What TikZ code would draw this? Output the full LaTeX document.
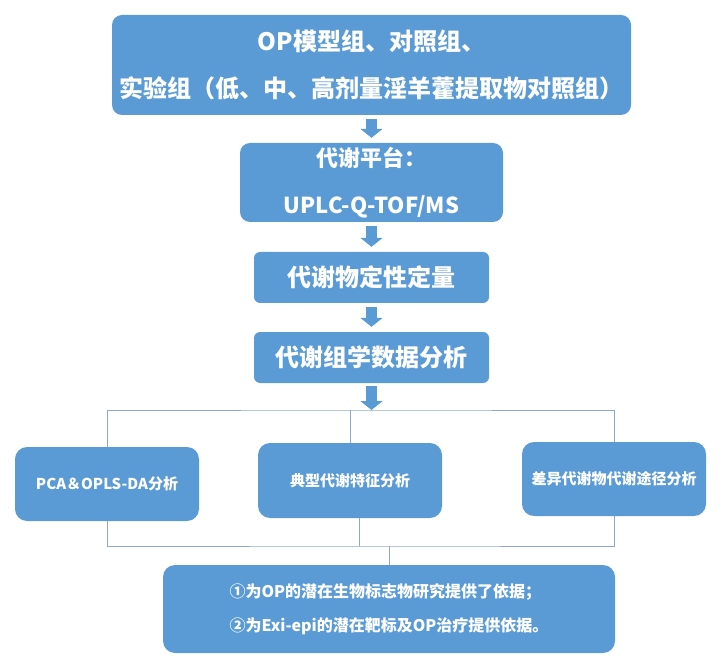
\documentclass[tikz,border=0pt]{standalone}
\usepackage{fontspec}
\setmainfont{Noto Sans CJK SC}
\usepackage{tikz}
\usetikzlibrary{arrows.meta}
\definecolor{boxblue}{HTML}{5B9BD5}
\definecolor{linkgray}{HTML}{8FA8C8}

\begin{document}
\begin{tikzpicture}[x=1pt, y=-1pt,
	box/.style={fill=boxblue, rounded corners=10pt, text=white, align=center, inner sep=0pt},
	flow/.style={draw=boxblue, line width=11pt, -{Triangle[width=22pt, length=9pt]}, shorten <=4pt, shorten >=5pt},
	link/.style={draw=linkgray, line width=0.8pt}]
	\useasboundingbox (0, 0) rectangle (720, 660);
	\node[box, minimum width=519pt, minimum height=100pt, font=\fontsize{24}{47}\selectfont\bfseries] (groups) at (371.5, 65) {OP模型组、对照组、\\实验组（低、中、高剂量淫羊藿提取物对照组）};
	\node[box, minimum width=263pt, minimum height=79pt, font=\fontsize{22}{47}\selectfont\bfseries] (platform) at (371.5, 182.5) {代谢平台：\\UPLC-Q-TOF/MS};
	\node[box, rounded corners=6pt, minimum width=235pt, minimum height=51pt, font=\fontsize{24}{30}\selectfont\bfseries] (quant) at (371.5, 277.5) {代谢物定性定量};
	\node[box, rounded corners=6pt, minimum width=235pt, minimum height=51pt, font=\fontsize{24}{30}\selectfont\bfseries] (analysis) at (371.5, 357.5) {代谢组学数据分析};
	\node[box, rounded corners=12pt, minimum width=184pt, minimum height=74pt, font=\fontsize{15}{20}\selectfont\bfseries] (pca) at (107, 484) {PCA＆OPLS-DA分析};
	\node[box, rounded corners=12pt, minimum width=184pt, minimum height=75pt, font=\fontsize{15}{20}\selectfont\bfseries] (typical) at (350, 480.5) {典型代谢特征分析};
	\node[box, rounded corners=12pt, minimum width=184pt, minimum height=74pt, font=\fontsize{15}{20}\selectfont\bfseries] (pathway) at (614, 479) {差异代谢物代谢途径分析};
	\node[box, rounded corners=12pt, minimum width=452pt, minimum height=88pt, align=left, font=\fontsize{16}{34}\selectfont\bfseries] (conclusion) at (389, 609) {①为OP的潜在生物标志物研究提供了依据；\\②为Exi-epi的潜在靶标及OP治疗提供依据。};
	\coordinate (split) at (371.5, 410);
	\coordinate (merge) at (389, 546);

	\draw[flow] (groups) -- (platform);
	\draw[flow] (platform) -- (quant);
	\draw[flow] (quant) -- (analysis);
	\draw[flow, shorten >=0pt, shorten <=3pt] (analysis) -- (split);

	\draw[link] (pca.north) |- (split) -| (pathway.north);
	\draw[link] (typical.north) -- (typical.north |- split);
	\draw[link] (pca.south) |- (merge) -| (pathway.south);
	\draw[link] ([xshift=9pt]typical.south) -- ([xshift=9pt]typical.south |- merge);
	\draw[link] (merge) -- (conclusion.north);
\end{tikzpicture}
\end{document}
